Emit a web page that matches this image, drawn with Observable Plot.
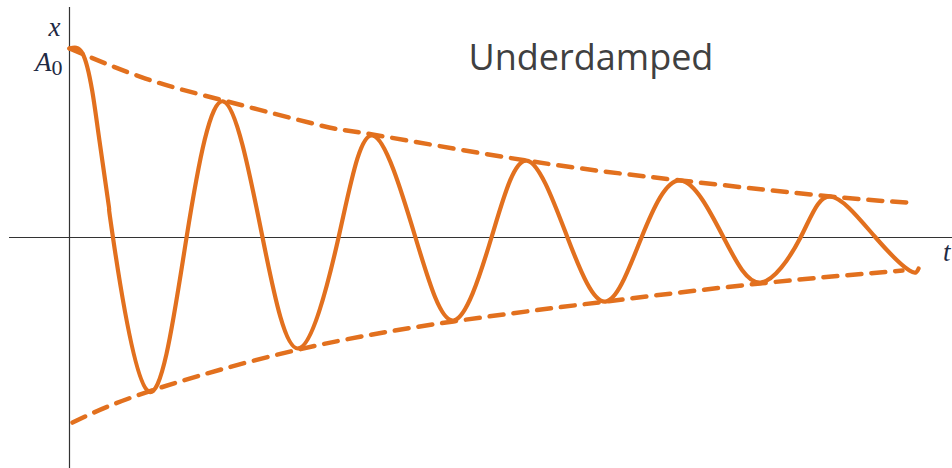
<!DOCTYPE html>
<html>
<head>
<meta charset="utf-8">
<script src="https://cdn.jsdelivr.net/npm/d3@7"></script>
<script src="https://cdn.jsdelivr.net/npm/@observablehq/plot@0.6"></script>
<style>
  html, body { margin: 0; padding: 0; background: #fff; overflow: hidden; }
  #chart svg { display: block; background: #fff; }
</style>
</head>
<body>
<div id="chart"></div>
<script>
// Displacement x(t) of the damped oscillator
const curveT = [0, 0.086, 0.149, 0.197, 0.26, 0.286, 0.52, 0.77, 1.013, 1.27, 1.507, 1.77, 1.993, 2.276, 2.526, 2.776, 3.007, 3.276, 3.526, 3.763, 4.02, 4.303, 4.546, 4.809, 5.007, 5.303, 5.526, 5.586];
const curveX = [1.0, 0.974, 0.778, 0.513, 0.159, 0, -0.815, 0, 0.72, 0, -0.587, 0, 0.54, 0, -0.439, 0, 0.407, 0, -0.339, 0, 0.302, 0, -0.238, 0, 0.217, 0, -0.175, -0.164];

// Upper dashed envelope
const upperT = [0, 0.5, 1.013, 1.651, 1.993, 3.007, 4.02, 5.007, 5.513];
const upperX = [1.0, 0.841, 0.725, 0.593, 0.545, 0.407, 0.302, 0.217, 0.185];

// Lower dashed envelope
const lowerT = [0.02, 0.52, 1.507, 2.526, 3.526, 4.546, 5.48];
const lowerX = [-0.979, -0.815, -0.593, -0.444, -0.339, -0.243, -0.175];

// Labels
const titleText = "Underdamped";
const yAxisLabel = "x";
const xAxisLabel = "t";
const amplitudeLabel = "A0";

const toRows = (ts, xs) => ts.map((t, i) => ({t, x: xs[i]}));
const curve = toRows(curveT, curveX);
const upper = toRows(upperT, upperX);
const lower = toRows(lowerT, lowerX);

const orange = "#e2701e";
const ink = "#1f2a44";
const serif = "'Liberation Serif', 'DejaVu Serif', serif";

const chart = Plot.plot({
  width: 952,
  height: 468,
  marginTop: 7,
  marginBottom: 0,
  marginLeft: 9,
  marginRight: 0,
  style: {background: "#fff"},
  x: {domain: [-0.3947, 5.809], axis: null},
  y: {domain: [-1.2222, 1.2169], axis: null},
  marks: [
    Plot.ruleY([0], {stroke: "#333", strokeWidth: 1.2}),
    Plot.ruleX([0], {stroke: "#333", strokeWidth: 1.2}),
    Plot.line(upper, {x: "t", y: "x", curve: "natural", stroke: orange, strokeWidth: 4.5, strokeDasharray: "14,10"}),
    Plot.line(lower, {x: "t", y: "x", curve: "natural", stroke: orange, strokeWidth: 4.5, strokeDasharray: "14,10"}),
    Plot.line(curve, {x: "t", y: "x", curve: "natural", stroke: orange, strokeWidth: 4.2, strokeLinejoin: "round", strokeLinecap: "round"}),
    Plot.text([titleText], {frameAnchor: "top-left", textAnchor: "start", dx: 459, dy: 36.5, fontSize: 36, fill: "#404040", fontFamily: "'Open Sans', sans-serif"}),
    Plot.text([yAxisLabel], {frameAnchor: "top-left", textAnchor: "end", dx: 51, dy: 9.4, fontSize: 27, fill: ink, fontFamily: serif, fontStyle: "italic"}),
    Plot.text([amplitudeLabel], {frameAnchor: "top-left", textAnchor: "end", dx: 53, dy: 44.4, fontSize: 27, fill: ink, fontFamily: serif, fontStyle: "italic"}),
    Plot.text([xAxisLabel], {frameAnchor: "right", textAnchor: "end", dx: -2, dy: 13.9, fontSize: 27, fill: ink, fontFamily: serif, fontStyle: "italic"})
  ]
});

// Render "A0" with an upright subscript 0
d3.select(chart).selectAll("text").filter(function() { return this.textContent === amplitudeLabel; })
  .each(function() {
    const t = d3.select(this);
    t.text(null);
    t.append("tspan").text(amplitudeLabel[0]);
    t.append("tspan").attr("font-style", "normal").attr("font-size", 22).attr("dy", "0.2em").text(amplitudeLabel.slice(1));
  });

document.getElementById("chart").appendChild(chart);
</script>
</body>
</html>
